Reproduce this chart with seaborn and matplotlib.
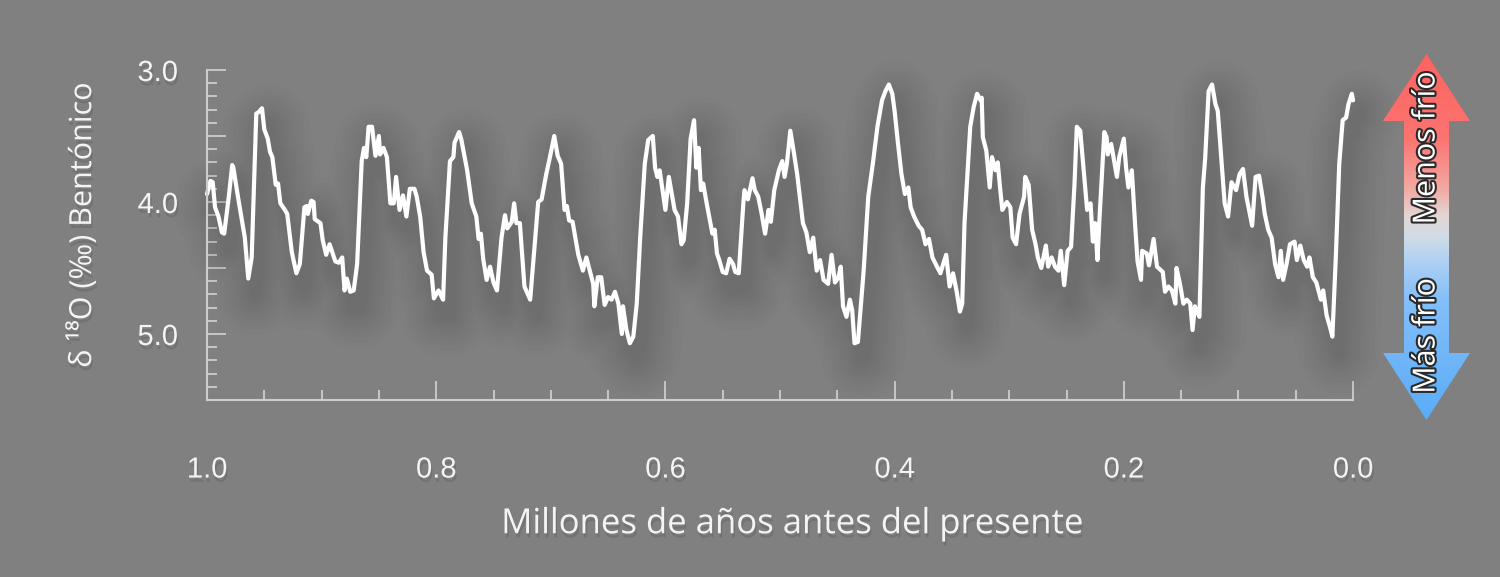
import numpy as np
import pandas as pd
import seaborn as sns
import matplotlib
matplotlib.use("Agg")
import matplotlib.pyplot as plt
import matplotlib.patheffects as pe
from matplotlib.colors import LinearSegmentedColormap
from matplotlib.path import Path
from matplotlib.patches import PathPatch
from matplotlib.ticker import MultipleLocator

# edad (Ma) y d18O bentónico
age_ma = [
    1.000, 0.997, 0.995, 0.993, 0.990, 0.987, 0.985, 0.981, 0.978, 0.977,
    0.973, 0.967, 0.964, 0.961, 0.957, 0.955, 0.952, 0.950, 0.947, 0.945,
    0.943, 0.940, 0.938, 0.936, 0.932, 0.930, 0.926, 0.922, 0.919, 0.915,
    0.913, 0.912, 0.909, 0.907, 0.906, 0.901, 0.899, 0.896, 0.893, 0.888,
    0.885, 0.882, 0.880, 0.878, 0.875, 0.872, 0.869, 0.865, 0.863, 0.861,
    0.859, 0.856, 0.853, 0.850, 0.849, 0.846, 0.843, 0.840, 0.837, 0.835,
    0.832,
    0.829, 0.826, 0.823, 0.819, 0.817, 0.814, 0.811, 0.808, 0.804, 0.802,
    0.798, 0.794, 0.792, 0.788, 0.785, 0.784, 0.780, 0.778, 0.773, 0.769,
    0.765, 0.763, 0.761, 0.759, 0.756, 0.753, 0.750, 0.747, 0.743, 0.740,
    0.738, 0.734, 0.732, 0.730, 0.727, 0.723, 0.718, 0.715, 0.711, 0.708,
    0.704, 0.701, 0.697, 0.694, 0.691, 0.688, 0.686, 0.684, 0.681, 0.676,
    0.672, 0.669,
    0.663, 0.662, 0.659, 0.656, 0.653, 0.650, 0.647, 0.644, 0.641, 0.638,
    0.637, 0.634, 0.631, 0.628, 0.625, 0.622, 0.618, 0.615, 0.611, 0.609,
    0.607, 0.605, 0.600, 0.597, 0.595, 0.592, 0.589, 0.586, 0.584, 0.581,
    0.578, 0.575, 0.573, 0.571, 0.569, 0.567, 0.564, 0.561, 0.559, 0.557,
    0.555, 0.553, 0.550, 0.547, 0.544, 0.541, 0.539, 0.536, 0.532, 0.531,
    0.528, 0.524, 0.522, 0.519, 0.516, 0.513, 0.510, 0.508, 0.505, 0.501,
    0.498, 0.496, 0.494, 0.491, 0.488, 0.485, 0.482, 0.480, 0.477, 0.474,
    0.471, 0.468, 0.465, 0.462, 0.458, 0.455, 0.452, 0.449, 0.447, 0.445,
    0.442, 0.439, 0.437, 0.435, 0.432, 0.427, 0.423, 0.419, 0.415, 0.411,
    0.408, 0.405, 0.402, 0.400, 0.397, 0.394, 0.391, 0.388, 0.386, 0.383,
    0.379, 0.376, 0.373, 0.370, 0.367, 0.363, 0.360, 0.358, 0.355, 0.352,
    0.349, 0.346, 0.343, 0.341,
    0.339, 0.334, 0.331, 0.328, 0.325, 0.324, 0.323, 0.320, 0.317, 0.315,
    0.312, 0.310, 0.308, 0.306, 0.302, 0.299, 0.297, 0.294, 0.291, 0.287,
    0.286, 0.283, 0.280, 0.277, 0.275, 0.272, 0.268, 0.266, 0.263, 0.260,
    0.257, 0.255, 0.252, 0.249, 0.246, 0.243, 0.241, 0.238, 0.235, 0.232,
    0.229, 0.227, 0.225, 0.223, 0.221, 0.217, 0.215, 0.214, 0.211, 0.209,
    0.206, 0.204, 0.200, 0.198, 0.196, 0.193, 0.190, 0.188, 0.185, 0.184,
    0.180, 0.178, 0.174, 0.171,
    0.166, 0.164, 0.161, 0.158, 0.155, 0.154, 0.151, 0.148, 0.145, 0.142,
    0.140, 0.138, 0.134, 0.131, 0.129, 0.126, 0.123, 0.120, 0.118, 0.115,
    0.112, 0.109, 0.106, 0.102, 0.099, 0.096, 0.093, 0.088, 0.085, 0.082,
    0.079, 0.077, 0.074, 0.071, 0.068, 0.065, 0.063, 0.061, 0.058, 0.055,
    0.051, 0.049, 0.046, 0.043, 0.040, 0.038, 0.035, 0.032, 0.028, 0.026,
    0.023, 0.020, 0.018, 0.015, 0.012, 0.009, 0.006, 0.004, 0.001, 0.000,
]

d18o = [
    3.94, 3.84, 3.85, 4.04, 4.11, 4.23, 4.24, 3.96, 3.72, 3.74,
    3.96, 4.27, 4.58, 4.42, 3.33, 3.32, 3.29, 3.45, 3.52, 3.62,
    3.66, 3.87, 3.86, 4.01, 4.06, 4.09, 4.38, 4.54, 4.47, 4.04,
    4.03, 4.09, 3.99, 4.00, 4.13, 4.16, 4.29, 4.40, 4.32, 4.45,
    4.46, 4.42, 4.67, 4.58, 4.68, 4.67, 4.47, 3.69, 3.59, 3.66,
    3.43, 3.43, 3.65, 3.50, 3.64, 3.59, 3.66, 4.01, 4.01, 3.81,
    4.06,
    3.95, 4.11, 3.90, 3.90, 3.96, 4.11, 4.38, 4.52, 4.55, 4.73,
    4.67, 4.74, 4.27, 3.69, 3.66, 3.55, 3.47, 3.53, 3.76, 4.01,
    4.11, 4.28, 4.24, 4.43, 4.59, 4.49, 4.61, 4.67, 4.27, 4.10,
    4.20, 4.15, 4.01, 4.16, 4.16, 4.64, 4.74, 4.42, 4.00, 3.98,
    3.79, 3.67, 3.50, 3.65, 3.71, 4.06, 4.03, 4.14, 4.15, 4.40,
    4.52, 4.42,
    4.62, 4.79, 4.57, 4.57, 4.78, 4.72, 4.74, 4.68, 4.77, 5.00,
    4.79, 4.97, 5.07, 5.02, 4.77, 4.27, 3.71, 3.53, 3.50, 3.74,
    3.81, 3.76, 4.06, 3.81, 3.91, 4.06, 4.11, 4.32, 4.29, 4.01,
    3.52, 3.38, 3.74, 3.59, 3.91, 3.86, 4.01, 4.15, 4.24, 4.21,
    4.39, 4.44, 4.53, 4.54, 4.43, 4.47, 4.53, 4.54, 4.01, 3.91,
    3.98, 3.82, 3.91, 3.96, 4.09, 4.24, 4.06, 4.15, 3.91, 3.76,
    3.69, 3.81, 3.71, 3.46, 3.62, 3.79, 4.01, 4.16, 4.23, 4.38,
    4.27, 4.52, 4.44, 4.59, 4.62, 4.40, 4.61, 4.57, 4.49, 4.79,
    4.87, 4.74, 4.82, 5.07, 5.06, 4.52, 3.96, 3.71, 3.43, 3.23,
    3.16, 3.11, 3.18, 3.31, 3.56, 3.79, 3.94, 3.89, 4.04, 4.11,
    4.18, 4.21, 4.32, 4.28, 4.42, 4.49, 4.54, 4.48, 4.40, 4.64,
    4.54, 4.67, 4.83, 4.77,
    4.16, 3.43, 3.28, 3.18, 3.23, 3.21, 3.51, 3.61, 3.89, 3.66,
    3.76, 3.70, 3.89, 4.06, 4.00, 4.04, 4.27, 4.32, 4.09, 3.96,
    3.81, 3.87, 4.21, 4.32, 4.42, 4.50, 4.33, 4.49, 4.42, 4.49,
    4.52, 4.37, 4.63, 4.37, 4.34, 3.86, 3.43, 3.46, 3.76, 4.06,
    4.01, 4.30, 4.16, 4.44, 4.09, 3.47, 3.51, 3.64, 3.56, 3.66,
    3.81, 3.66, 3.52, 3.74, 3.89, 3.76, 4.19, 4.45, 4.59, 4.37,
    4.39, 4.48, 4.28, 4.49,
    4.53, 4.68, 4.64, 4.67, 4.77, 4.50, 4.62, 4.77, 4.74, 4.77,
    4.97, 4.79, 4.87, 3.89, 3.67, 3.16, 3.11, 3.26, 3.31, 3.66,
    4.01, 4.11, 3.85, 3.91, 3.79, 3.75, 3.96, 4.18, 3.81, 3.80,
    3.96, 4.09, 4.21, 4.27, 4.47, 4.57, 4.37, 4.59, 4.47, 4.32,
    4.30, 4.44, 4.33, 4.44, 4.49, 4.42, 4.57, 4.61, 4.74, 4.67,
    4.86, 4.95, 5.02, 4.42, 3.71, 3.38, 3.36, 3.26, 3.18, 3.23,
]

x_ticks = [1.0, 0.8, 0.6, 0.4, 0.2, 0.0]
y_ticks = [3.0, 4.0, 5.0]
x_label = "Millones de años antes del presente"
y_label = "δ ¹⁸O (‰) Bentónico"
arrow_up_text = "Menos frío"
arrow_down_text = "Más frío"

BG = "#808080"
AXIS_C = "#cdcdcd"
TEXT_C = "#f4f4f4"

sns.set_theme(style="ticks")
plt.rcParams["font.family"] = ["Open Sans", "DejaVu Sans"]

W, H = 1500, 577
fig = plt.figure(figsize=(W / 100, H / 100), dpi=100, facecolor=BG)
ax = fig.add_axes([207 / W, 1 - 400 / H, 1146 / W, 330 / H])
ax.set_facecolor(BG)

df = pd.DataFrame({"age": age_ma, "d18o": d18o})

# sombra difusa bajo la curva (varias capas suaves)
line_fx = [pe.Stroke(linewidth=w, foreground="black", alpha=0.011, offset=(5, -12))
           for w in (58, 50, 43, 36, 30, 24, 18, 13, 8)] + [pe.Normal()]
sns.lineplot(data=df, x="age", y="d18o", ax=ax, color="white", lw=3.0,
             sort=False, estimator=None, path_effects=line_fx, clip_on=False)

ax.set_xlim(1.0, 0.0)
ax.set_ylim(5.5, 3.0)
sns.despine(ax=ax)
for s in ("left", "bottom"):
    ax.spines[s].set_color(AXIS_C)
    ax.spines[s].set_linewidth(1.5)

ax.set_xticks(x_ticks, labels=[f"{v:.1f}" for v in x_ticks])
ax.xaxis.set_minor_locator(MultipleLocator(0.05))
y_major = np.arange(3.0, 5.01, 0.5)
ax.set_yticks(y_major, labels=[f"{v:.1f}" if round(v, 1) in y_ticks else "" for v in y_major])
ax.yaxis.set_minor_locator(MultipleLocator(0.1))

txt_fx = [pe.withSimplePatchShadow(offset=(1, -3), shadow_rgbFace="black", alpha=0.1)]
ax.tick_params(which="both", direction="in", color=AXIS_C, width=1.3,
               labelcolor=TEXT_C, labelsize=21, labelfontfamily="Liberation Sans")
ax.tick_params(which="major", length=14)
ax.tick_params(which="minor", length=7)
ax.tick_params(axis="y", pad=21)
ax.tick_params(axis="x", pad=40)
for lbl in ax.get_xticklabels() + ax.get_yticklabels():
    lbl.set_path_effects(txt_fx)

ax.set_xlabel(x_label, fontsize=25, color=TEXT_C, path_effects=txt_fx)
ax.set_ylabel(y_label, fontsize=22, color=TEXT_C, path_effects=txt_fx)
ax.xaxis.set_label_coords(0.511, -0.325)
ax.yaxis.set_label_coords(-0.095, 0.53)

# flecha doble con degradado
aax = fig.add_axes([1383 / W, 1 - 420 / H, 87 / W, 366 / H])
aax.set_xlim(0, 87)
aax.set_ylim(0, 366)
aax.axis("off")
cmap = LinearSegmentedColormap.from_list("frio", [
    (0.00, "#5aacf9"), (0.33, "#84bff8"), (0.42, "#a9cff4"),
    (0.50, "#d0dce6"), (0.56, "#e2d6d3"), (0.63, "#f2aaa4"),
    (0.77, "#fb7470"), (1.00, "#ff6360")])
verts = [(43.5, 366), (87, 299), (66, 299), (66, 67), (87, 67), (43.5, 0),
         (0, 67), (21, 67), (21, 299), (0, 299), (43.5, 366)]
arrow = PathPatch(Path(verts, closed=True), facecolor="none", edgecolor="none")
aax.add_patch(arrow)
img = aax.imshow(np.linspace(0, 1, 256).reshape(-1, 1), cmap=cmap, origin="lower",
                 extent=[0, 87, 0, 366], aspect="auto")
img.set_clip_path(arrow)

arrow_fx = [pe.withStroke(linewidth=3, foreground="#2a2a2a")]
aax.text(43.5, 272, arrow_up_text, rotation=90, ha="center", va="center",
         fontsize=22, color="white", path_effects=arrow_fx)
aax.text(43.5, 84, arrow_down_text, rotation=90, ha="center", va="center",
         fontsize=22, color="white", path_effects=arrow_fx)

fig.savefig("out.png", dpi=100, facecolor=BG)
